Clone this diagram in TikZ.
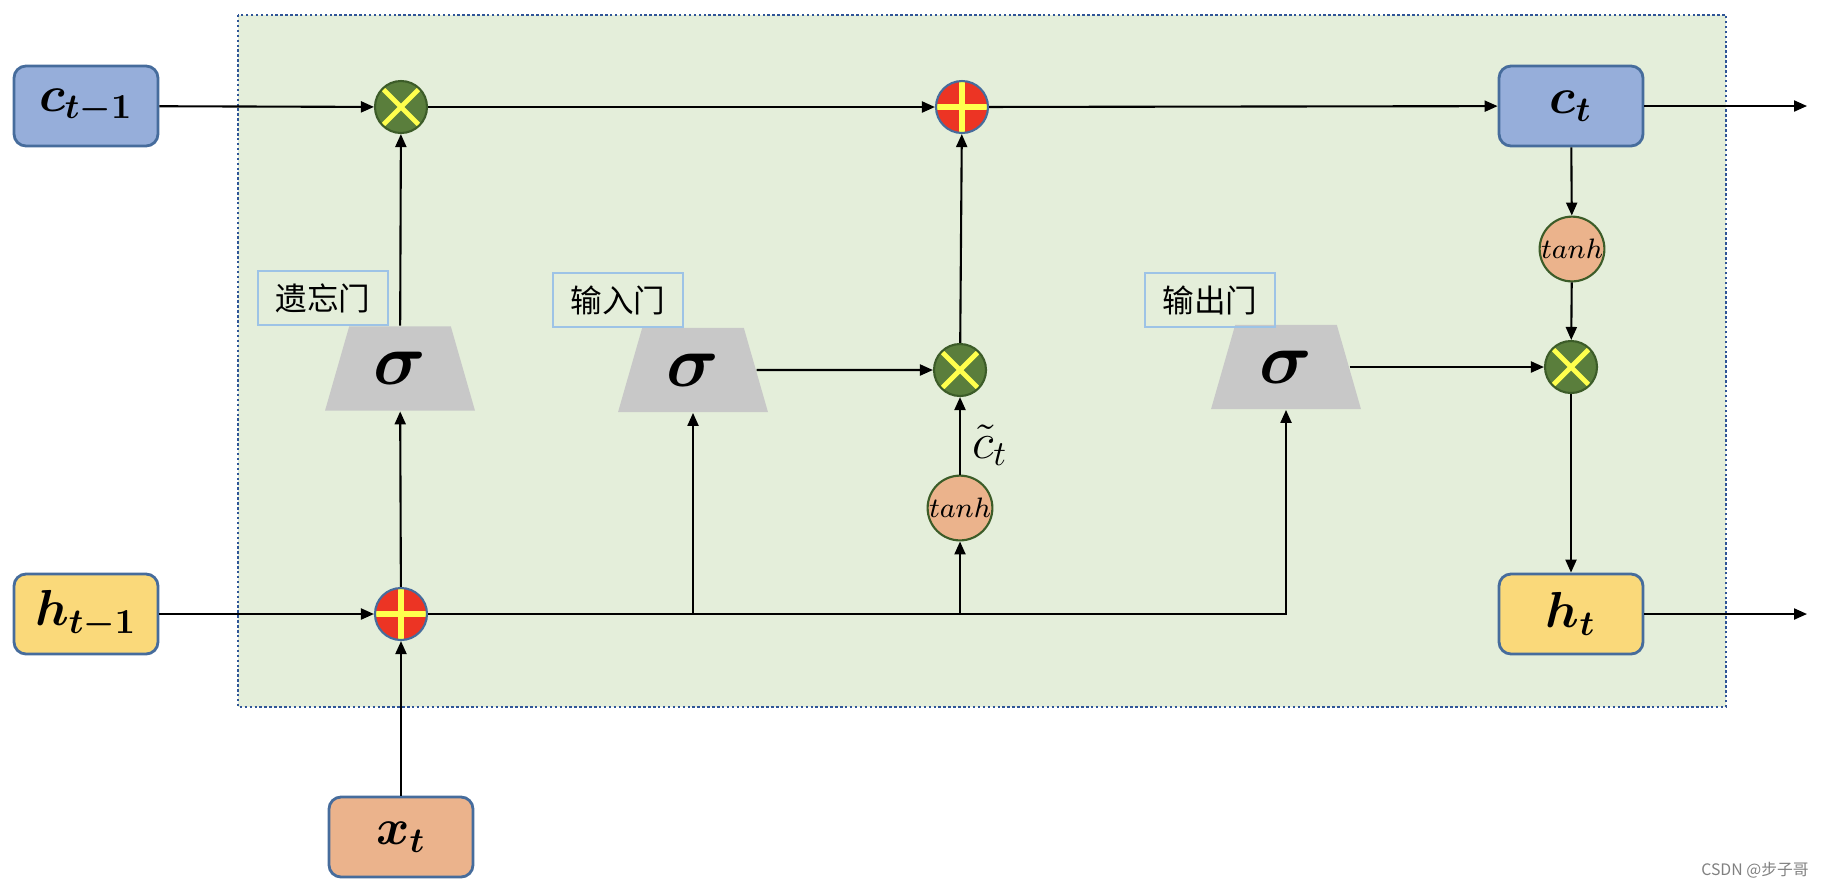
\documentclass[tikz,border=0pt]{standalone}
\usepackage{amsmath}
\usepackage{bm}
\usepackage{fontspec}
\newfontfamily\cjk{Noto Sans CJK SC}
\usetikzlibrary{arrows.meta,shapes.geometric}
\definecolor{lstmblue}{RGB}{150,174,218}
\definecolor{lstmyel}{RGB}{250,217,122}
\definecolor{lstmorange}{RGB}{235,179,140}
\definecolor{lstmedge}{RGB}{70,108,156}
\definecolor{lstmbg}{RGB}{228,238,218}
\definecolor{lstmdot}{RGB}{47,85,151}
\definecolor{lstmgreen}{RGB}{90,126,60}
\definecolor{lstmdkgreen}{RGB}{60,92,40}
\definecolor{lstmcross}{RGB}{255,255,77}
\definecolor{lstmred}{RGB}{236,52,36}
\definecolor{lstmgray}{RGB}{200,200,200}
\definecolor{lstmlabel}{RGB}{157,195,230}

\begin{document}
\begin{tikzpicture}[
  arr/.style={-{Triangle[length=1.3mm,width=1.1mm]}, line width=0.6pt},
  cellbox/.style={rounded corners=0.12cm, draw=lstmedge, line width=0.8pt,
    minimum width=1.44cm, minimum height=0.8cm, font=\Large},
  mulop/.style={circle, minimum size=0.52cm, inner sep=0pt, fill=lstmgreen,
    draw=lstmdkgreen, line width=0.6pt,
    path picture={\draw[lstmcross, line width=1.4pt]
      (path picture bounding box.north west) -- (path picture bounding box.south east)
      (path picture bounding box.north east) -- (path picture bounding box.south west);}},
  addop/.style={circle, minimum size=0.52cm, inner sep=0pt, fill=lstmred,
    draw=lstmedge, line width=0.6pt,
    path picture={\draw[lstmcross, line width=1.6pt]
      (path picture bounding box.north) -- (path picture bounding box.south)
      (path picture bounding box.west) -- (path picture bounding box.east);}},
  tanhop/.style={circle, minimum size=0.64cm, inner sep=0pt, fill=lstmorange,
    draw=lstmdkgreen, line width=0.6pt, font=\fontsize{8.4}{10}\selectfont},
  gate/.style={trapezium, trapezium angle=74, trapezium stretches body=true,
    minimum width=1.5cm, minimum height=0.81cm, inner xsep=0pt, inner ysep=0.26cm,
    fill=lstmgray, font=\huge},
  gatelabel/.style={draw=lstmlabel, line width=0.8pt, minimum width=1.3cm,
    minimum height=0.54cm, font=\cjk\small}]
\useasboundingbox (0,0) rectangle (18.22,-8.88);
% cell background
\draw[fill=lstmbg, draw=lstmdot, line width=0.6pt, dash pattern=on 0.7pt off 0.7pt]
  (2.38,-0.15) rectangle (17.26,-7.07);

% inputs and outputs
\node[cellbox, fill=lstmblue] (cprev) at (0.86,-1.06) {$\bm{c_{t-1}}$};
\node[cellbox, fill=lstmyel] (hprev) at (0.86,-6.14) {$\bm{h_{t-1}}$};
\node[cellbox, fill=lstmorange] (xt) at (4.01,-8.37) {$\bm{x_t}$};
\node[cellbox, fill=lstmblue] (ct) at (15.71,-1.06) {$\bm{c_t}$};
\node[cellbox, fill=lstmyel] (ht) at (15.71,-6.14) {$\bm{h_t}$};
\coordinate (cout) at (18.07,-1.06);
\coordinate (hout) at (18.07,-6.14);

% operations
\node[mulop] (mulf) at (4.01,-1.07) {};
\node[addop] (addc) at (9.62,-1.07) {};
\node[mulop] (muli) at (9.60,-3.70) {};
\node[tanhop] (tanhc) at (9.60,-5.08) {$tanh$};
\node[addop] (addx) at (4.01,-6.14) {};
\node[tanhop] (tanho) at (15.72,-2.49) {$tanh$};
\node[mulop] (mulo) at (15.71,-3.67) {};
\node[font=\Large] (ctil) at (9.90,-4.45) {$\tilde{c}_t$};

% gates
\node[gate] (sigf) at (4.00,-3.685) {$\bm{\sigma}$};
\node[gate] (sigi) at (6.93,-3.70) {$\bm{\sigma}$};
\node[gate] (sigo) at (12.86,-3.67) {$\bm{\sigma}$};
\node[gatelabel] (lblf) at (3.23,-2.98) {遗忘门};
\node[gatelabel] (lbli) at (6.18,-3.00) {输入门};
\node[gatelabel] (lblo) at (12.10,-3.00) {输出门};

% connectors
\draw[arr] (cprev) -- (mulf);
\draw[arr] (mulf) -- (addc);
\draw[arr] (addc) -- (ct);
\draw[arr] (ct) -- (cout);
\draw[arr] (sigf) -- (mulf);
\draw[arr] (hprev) -- (addx);
\draw[arr] (xt) -- (addx);
\draw[arr] (addx) -- (sigf);
\draw[arr] (addx.east) -| (sigi.south);
\draw[arr] (addx.east) -| (sigo.south);
\coordinate (split) at (tanhc |- addx);
\draw[arr] (split) -- (tanhc);
\draw[arr] (tanhc) -- (muli);
\draw[arr] (sigi) -- (muli);
\draw[arr] (muli) -- (addc);
\draw[arr] (ct) -- (tanho);
\draw[arr] (tanho) -- (mulo);
\draw[arr] (sigo) -- (mulo);
\draw[arr] (mulo) -- (ht);
\draw[arr] (ht) -- (hout);

\node[text=gray, font=\cjk\fontsize{4.5}{5}\selectfont] (mark) at (17.55,-8.70) {CSDN @步子哥};
\end{tikzpicture}
\end{document}
